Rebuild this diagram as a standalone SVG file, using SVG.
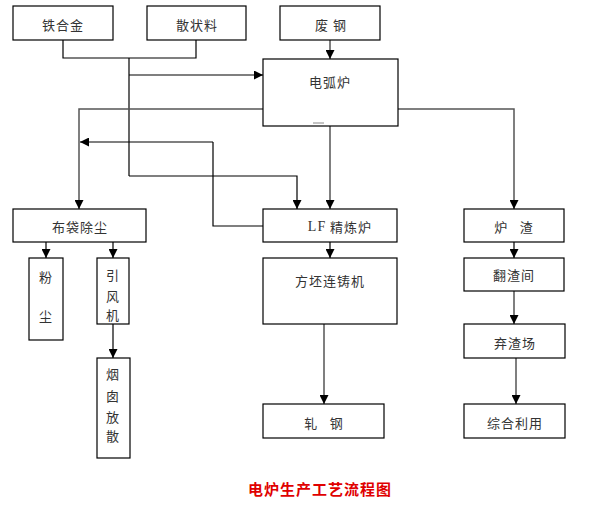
<svg xmlns="http://www.w3.org/2000/svg" width="598" height="507" viewBox="0 0 598 507">
<style>
.box{fill:#fff;stroke:#000;stroke-width:1.2}
.t{font-family:"Noto Sans CJK SC","Noto Sans",sans-serif;font-size:13px;fill:#333;text-anchor:middle;dominant-baseline:central;letter-spacing:1px}
.ln{fill:none;stroke:#000;stroke-width:1.2}
.lg{fill:none;stroke:#555;stroke-width:1.5}
.title{font-family:"Noto Sans CJK SC",sans-serif;font-size:15px;font-weight:bold;fill:#e00000;text-anchor:middle;dominant-baseline:central;letter-spacing:1px}
</style>
<defs>
<marker id="ah" markerUnits="userSpaceOnUse" markerWidth="9" markerHeight="9" refX="9" refY="4.5" orient="auto">
<path d="M0,0 L9,4.5 L0,9 z" fill="#000"/>
</marker>
</defs>
<rect width="598" height="507" fill="#fff"/>
<g id="connectors">
<polyline class="ln" points="63,40 63,58 196,58 196,40"/>
<line class="ln" x1="129" y1="58" x2="129" y2="176"/>
<line class="ln" x1="129" y1="75" x2="263" y2="75" marker-end="url(#ah)"/>
<polyline class="ln" points="129,176 297,176 297,209" marker-end="url(#ah)"/>
<line class="lg" x1="330" y1="40" x2="330" y2="59" marker-end="url(#ah)"/>
<polyline class="lg" points="263,109 79,109 79,209" marker-end="url(#ah)"/>
<polyline class="lg" points="398,109 514,109 514,209" marker-end="url(#ah)"/>
<line class="lg" x1="330" y1="126" x2="330" y2="209" marker-end="url(#ah)"/>
<line class="ln" x1="213" y1="142" x2="80" y2="142" marker-end="url(#ah)"/>
<polyline class="ln" points="213,142 213,226 263,226"/>
<line class="ln" x1="46" y1="242" x2="46" y2="258" marker-end="url(#ah)"/>
<line class="ln" x1="113" y1="242" x2="113" y2="258" marker-end="url(#ah)"/>
<line class="ln" x1="113" y1="324" x2="113" y2="358" marker-end="url(#ah)"/>
<line class="ln" x1="330" y1="242" x2="330" y2="258" marker-end="url(#ah)"/>
<line class="lg" x1="324" y1="324" x2="324" y2="404" marker-end="url(#ah)"/>
<line class="ln" x1="514" y1="242" x2="514" y2="258" marker-end="url(#ah)"/>
<line class="lg" x1="514" y1="291" x2="514" y2="324" marker-end="url(#ah)"/>
<line class="lg" x1="516" y1="358" x2="516" y2="404" marker-end="url(#ah)"/>
</g>
<g id="n_tiehejin"><rect class="box" x="13" y="6" width="100" height="34"/><text class="t" x="63" y="24">铁合金</text></g>
<g id="n_sanzhuangliao"><rect class="box" x="147" y="6" width="99" height="34"/><text class="t" x="197" y="24">散状料</text></g>
<g id="n_feigang"><rect class="box" x="280" y="6" width="100" height="34"/><text class="t" x="331" y="24" xml:space="preserve">废 钢</text></g>
<g id="n_diantulu"><rect class="box" x="263" y="59" width="135" height="67"/><text class="t" x="330" y="81">电弧炉</text><line x1="313" y1="123" x2="324" y2="123" stroke="#888" stroke-width="1"/></g>
<g id="n_budai"><rect class="box" x="13" y="209" width="133" height="33"/><text class="t" x="80" y="226">布袋除尘</text></g>
<g id="n_lf"><rect class="box" x="263" y="209" width="134" height="33"/><text class="t" x="340" y="226"><tspan font-family="Liberation Serif,serif" font-size="14">LF</tspan> 精炼炉</text></g>
<g id="n_luzha"><rect class="box" x="464" y="209" width="100" height="33"/><text class="t" x="514" y="226" xml:space="preserve">炉   渣</text></g>
<g id="n_fenchen"><rect class="box" x="29" y="258" width="34" height="82"/><text class="t" x="46" y="276">粉</text><text class="t" x="46" y="315">尘</text></g>
<g id="n_yinfengji"><rect class="box" x="97" y="258" width="32" height="66"/><text class="t" x="113" y="274">引</text><text class="t" x="113" y="295">风</text><text class="t" x="113" y="314">机</text></g>
<g id="n_fangpi"><rect class="box" x="263" y="258" width="134" height="66"/><text class="t" x="330" y="280">方坯连铸机</text></g>
<g id="n_fanzhajian"><rect class="box" x="464" y="258" width="100" height="33"/><text class="t" x="514" y="274">翻渣间</text></g>
<g id="n_yancong"><rect class="box" x="97" y="358" width="33" height="100"/><text class="t" x="113" y="373">烟</text><text class="t" x="113" y="395">囱</text><text class="t" x="113" y="416">放</text><text class="t" x="113" y="435">散</text></g>
<g id="n_qizhachang"><rect class="box" x="464" y="324" width="101" height="34"/><text class="t" x="515" y="342">弃渣场</text></g>
<g id="n_zhagang"><rect class="box" x="263" y="404" width="121" height="34"/><text class="t" x="324" y="422" xml:space="preserve">轧   钢</text></g>
<g id="n_zonghe"><rect class="box" x="464" y="404" width="101" height="34"/><text class="t" x="515" y="422">综合利用</text></g>
<text class="title" x="320" y="488">电炉生产工艺流程图</text>
</svg>
